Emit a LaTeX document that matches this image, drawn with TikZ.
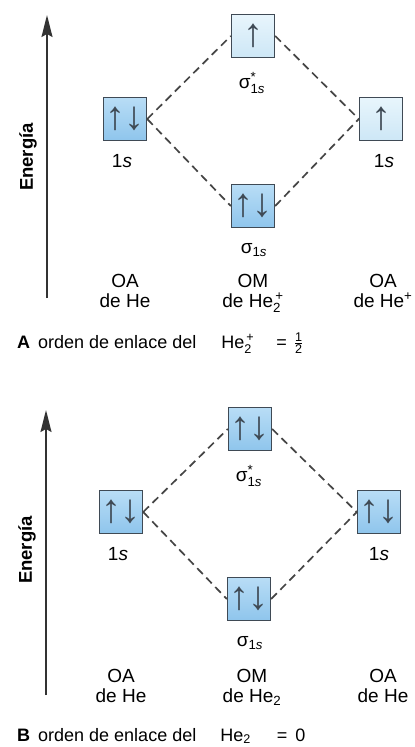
\documentclass[tikz,border=0pt]{standalone}
\usepackage{amsmath}
\usepackage{fontspec}
\setmainfont{Liberation Sans}
\usetikzlibrary{arrows.meta}

\definecolor{boxedge}{HTML}{3F4A55}
\definecolor{pairtop}{HTML}{B8DDF6}
\definecolor{pairbot}{HTML}{8FC5EC}
\definecolor{singtop}{HTML}{E8F5FC}
\definecolor{singbot}{HTML}{CDE7F6}
\definecolor{linkgray}{HTML}{454545}
\definecolor{axisgray}{HTML}{333333}

\begin{document}
\begin{tikzpicture}[x=1pt,y=-1pt,
  orb/.style={draw=boxedge, line width=1.4pt, minimum width=43pt,
    minimum height=43pt, inner sep=0pt, text=boxedge,
    font=\fontsize{40}{40}\selectfont},
  pairbox/.style={orb, top color=pairtop, bottom color=pairbot},
  singlebox/.style={orb, top color=singtop, bottom color=singbot},
  link/.style={draw=linkgray, line width=1.7pt, dash pattern=on 8pt off 5pt},
  lbl/.style={font=\fontsize{19}{20}\selectfont, inner sep=0pt, anchor=base},
  caption/.style={font=\fontsize{18}{20}\selectfont, inner sep=0pt, anchor=base west},
  axis/.style={draw=axisgray, line width=1.6pt,
    -{Stealth[length=22pt,width=11pt,inset=3pt]}},
  energy/.style={rotate=90, inner sep=0pt,
    font=\bfseries\fontsize{18.5}{20}\selectfont}]
\useasboundingbox (0,0) rectangle (415,747);
\fill[white] (0,0) rectangle (415,747);

% ---------- Panel A: He2+ ----------
\coordinate (aAxBot) at (47,298);
\coordinate (aAxTop) at (47,15);
\draw[axis] (aAxBot) -- (aAxTop);
\node[energy] (aEn) at (28,157) {Energía};

\node[pairbox]   (aL) at (125,119) {↑\hspace{-1pt}↓};
\node[singlebox] (aT) at (253,36)  {↑};
\node[singlebox] (aR) at (381,119) {↑};
\node[pairbox]   (aB) at (253,206) {↑\hspace{-1pt}↓};

\draw[link] (aL.east) -- (aT.west);
\draw[link] (aL.east) -- (aB.west);
\draw[link] (aT.east) -- (aR.west);
\draw[link] (aB.east) -- (aR.west);

\node[lbl] (aLs) at (122,167) {1\textit{s}};
\node[lbl] (aRs) at (384,167) {1\textit{s}};
\node[lbl] (aTs) at (252,88)  {σ$^{\text{*}}_{\text{1\textit{s}}}$};
\node[lbl] (aBs) at (254,253) {σ$_{\text{1\textit{s}}}$};

% multi-line labels: the base anchor sits on the last line
\node[lbl, align=center] (aOAL) at (125,307) {OA\\de He};
\node[lbl, align=center] (aOM)  at (253,307) {OM\\de He$_{\text{2}}^{\text{\,+}}$};
\node[lbl, align=center] (aOAR) at (383,307) {OA\\de He$^{\text{+}}$};

\node[caption] (aCap) at (17,348)
  {\textbf{A}\hspace{8pt}orden de enlace del\hspace{25pt}He$_{\text{2}}^{\text{\,+}}$\hspace{22pt}=\hspace{7pt}$\frac{\text{1}}{\text{2}}$};

% ---------- Panel B: He2 ----------
\coordinate (bAxBot) at (46,695);
\coordinate (bAxTop) at (46,410);
\draw[axis] (bAxBot) -- (bAxTop);
\node[energy] (bEn) at (27,550) {Energía};

\node[pairbox] (bL) at (121,512) {↑\hspace{-1pt}↓};
\node[pairbox] (bT) at (250,429) {↑\hspace{-1pt}↓};
\node[pairbox] (bR) at (379,512) {↑\hspace{-1pt}↓};
\node[pairbox] (bB) at (249,599) {↑\hspace{-1pt}↓};

\draw[link] (bL.east) -- (bT.west);
\draw[link] (bL.east) -- (bB.west);
\draw[link] (bT.east) -- (bR.west);
\draw[link] (bB.east) -- (bR.west);

\node[lbl] (bLs) at (118,560) {1\textit{s}};
\node[lbl] (bRs) at (379,560) {1\textit{s}};
\node[lbl] (bTs) at (249,481) {σ$^{\text{*}}_{\text{1\textit{s}}}$};
\node[lbl] (bBs) at (250,646) {σ$_{\text{1\textit{s}}}$};

\node[lbl, align=center] (bOAL) at (121,702) {OA\\de He};
\node[lbl, align=center] (bOM)  at (252,702) {OM\\de He$_{\text{2}}$};
\node[lbl, align=center] (bOAR) at (383,702) {OA\\de He};

\node[caption] (bCap) at (17,741)
  {\textbf{B}\hspace{8pt}orden de enlace del\hspace{24pt}He$_{\text{2}}$\hspace{26pt}=\hspace{8pt}0};
\end{tikzpicture}
\end{document}
